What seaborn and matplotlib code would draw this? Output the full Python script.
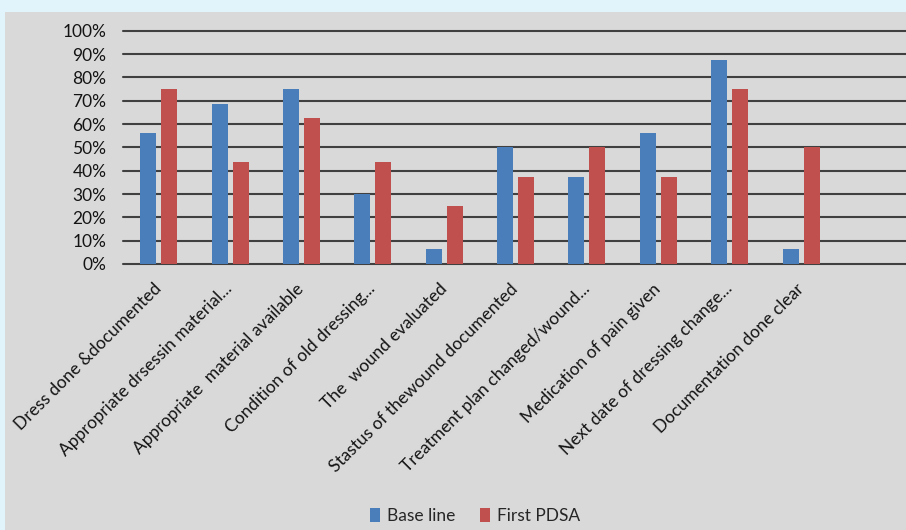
import matplotlib
matplotlib.use("Agg")
import matplotlib.pyplot as plt
import seaborn as sns
import pandas as pd
from matplotlib.patches import Rectangle
from matplotlib.ticker import PercentFormatter

categories = [
    "Dress done &documented",
    "Appropriate drsessin material...",
    "Appropriate  material available",
    "Condition of old dressing...",
    "The  wound evaluated",
    "Stastus of thewound documented",
    "Treatment plan changed/wound...",
    "Medication of pain given",
    "Next date of dressing change...",
    "Documentation done clear",
]
baseline = [0.5625, 0.6875, 0.75, 0.30, 0.0625, 0.50, 0.375, 0.5625, 0.875, 0.0625]
first_pdsa = [0.75, 0.4375, 0.625, 0.4375, 0.25, 0.375, 0.50, 0.375, 0.75, 0.50]
series_names = ["Base line", "First PDSA"]
colors = ["#4a7ebb", "#c0504d"]
y_ticks = [0, 0.1, 0.2, 0.3, 0.4, 0.5, 0.6, 0.7, 0.8, 0.9, 1.0]

df = pd.DataFrame({
    "category": categories * 2,
    "value": baseline + first_pdsa,
    "series": [series_names[0]] * len(categories) + [series_names[1]] * len(categories),
})

sns.set_theme(style="white")
plt.rcParams["font.family"] = ["Lato", "DejaVu Sans"]

W, H = 906, 530
fig = plt.figure(figsize=(W / 100, H / 100), dpi=100)
fig.patch.set_facecolor("#e1f3fb")
fig.patches.append(Rectangle((5 / W, 0), 1, 1 - 12 / H, transform=fig.transFigure,
                             facecolor="#d9d9d9", edgecolor="none", zorder=-10))

ax = fig.add_axes([123 / W, 266 / H, 1 - 123 / W, (264 - 30.7) / H])
ax.set_facecolor("none")

sns.barplot(data=df, x="category", y="value", hue="series", palette=colors,
            saturation=1, width=0.59, gap=0.24, ax=ax, legend=True, zorder=3,
            edgecolor="none", linewidth=0)

ax.set_ylim(0, 1.0)
ax.set_xlim(-0.5, 10.47)
ax.set_yticks(y_ticks)
ax.yaxis.set_major_formatter(PercentFormatter(1.0, decimals=0))
ax.set_xlabel("")
ax.set_ylabel("")
for s in ax.spines.values():
    s.set_visible(False)
for y in y_ticks:
    ax.axhline(y, color="#404040", lw=1.5, zorder=1, clip_on=False)

ax.tick_params(axis="y", length=0, pad=12, labelsize=12.5, labelcolor="#141414")
ax.tick_params(axis="x", length=0, pad=16, labelsize=12.5, labelcolor="#141414")
for lbl in ax.get_xticklabels():
    lbl.set_rotation(45)
    lbl.set_ha("right")
    lbl.set_va("center")
    lbl.set_rotation_mode("anchor")

handles, labels = ax.get_legend_handles_labels()
ax.get_legend().remove()
fig.legend(handles, labels, loc="center", bbox_to_anchor=(475 / W, 1 - 516 / H),
           ncol=2, frameon=False, handlelength=0.6, handleheight=0.9,
           handletextpad=0.4, columnspacing=1.4, fontsize=12.5)

fig.savefig("out.png", dpi=100, facecolor=fig.get_facecolor())
